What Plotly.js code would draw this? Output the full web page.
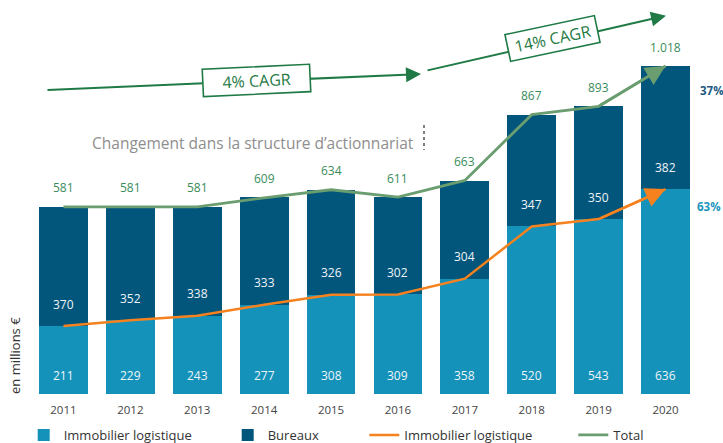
<!DOCTYPE html>
<html>
<head>
<meta charset="utf-8">
<script src="https://cdn.plot.ly/plotly-3.0.1.min.js"></script>
<style>
  html, body { margin: 0; padding: 0; background: #ffffff; }
  #chart { width: 723px; height: 443px; }
</style>
</head>
<body>
<div id="chart"></div>
<script>
// ---- Data ----
const years = ['2011', '2012', '2013', '2014', '2015', '2016', '2017', '2018', '2019', '2020'];
const logistique = [211, 229, 243, 277, 308, 309, 358, 520, 543, 636];
const bureaux = [370, 352, 338, 333, 326, 302, 304, 347, 350, 382];
const totals = [581, 581, 581, 609, 634, 611, 663, 867, 893, 1018];
const shareBureaux2020 = '37%';
const shareLogistique2020 = '63%';
const seriesNames = ['Immobilier logistique', 'Bureaux', 'Immobilier logistique', 'Total'];
const cagrLabels = ['4% CAGR', '14% CAGR'];
const noteText = 'Changement dans la structure d\u2019actionnariat';
const yTitle = 'en millions \u20ac';

// ---- Styles ----
const LIGHT = '#1492ba';
const DARK = '#02557b';
const ORANGE = '#f5821f';
const GREEN_LINE = '#6a9d6f';
const GREEN_DARK = '#1f7a45';
const GREEN_TEXT = '#3a8c5c';
const FONT = 'Open Sans, Noto Sans, sans-serif';

// plot-area geometry helpers (paper coordinates from pixel positions)
const PL = 30, PW = 669, PB = 394, PH = 384;
const px = v => (v - PL) / PW;
const py = v => (PB - v) / PH;

function fmt(n) {
  const s = String(n);
  return n >= 1000 ? s.slice(0, s.length - 3) + '.' + s.slice(-3) : s;
}

const traces = [
  { type: 'bar', name: seriesNames[0], x: years, y: logistique, marker: { color: LIGHT }, legend: 'legend', hoverinfo: 'skip' },
  { type: 'bar', name: seriesNames[1], x: years, y: bureaux, marker: { color: DARK }, legend: 'legend2', hoverinfo: 'skip' },
  { type: 'scatter', mode: 'lines', name: seriesNames[2], x: years, y: logistique, line: { color: ORANGE, width: 2.5 }, legend: 'legend3', hoverinfo: 'skip' },
  { type: 'scatter', mode: 'lines', name: seriesNames[3], x: years, y: totals, line: { color: GREEN_LINE, width: 2.8 }, legend: 'legend4', hoverinfo: 'skip' }
];

const annotations = [];
years.forEach((yr, i) => {
  annotations.push({ x: i, y: 0, xref: 'x', yref: 'y', yshift: 19, showarrow: false,
    xanchor: 'center', yanchor: 'middle',
    text: String(logistique[i]), font: { family: FONT, size: 12, color: '#eef4f8' } });
  annotations.push({ x: i, y: logistique[i], xref: 'x', yref: 'y', yshift: 22, showarrow: false,
    xanchor: 'center', yanchor: 'middle',
    text: String(bureaux[i]), font: { family: FONT, size: 12, color: '#eef4f8' } });
  annotations.push({ x: i, y: totals[i], xref: 'x', yref: 'y', yshift: 19, showarrow: false,
    xanchor: 'center', yanchor: 'middle',
    text: fmt(totals[i]), font: { family: FONT, size: 12, color: GREEN_TEXT } });
});

// arrowheads at the end of the two data lines
const last = years.length - 1;
annotations.push({ x: last, y: logistique[last], ax: last - 1, ay: logistique[last - 1],
  xref: 'x', yref: 'y', axref: 'x', ayref: 'y', text: '', showarrow: true,
  arrowhead: 2, arrowsize: 1.6, arrowwidth: 2.5, arrowcolor: ORANGE });
annotations.push({ x: last, y: totals[last], ax: last - 1, ay: totals[last - 1],
  xref: 'x', yref: 'y', axref: 'x', ayref: 'y', text: '', showarrow: true,
  arrowhead: 2, arrowsize: 1.6, arrowwidth: 2.5, arrowcolor: GREEN_LINE });

// share labels on the right
annotations.push({ x: px(698), y: py(90.7), xref: 'paper', yref: 'paper', xanchor: 'left', yanchor: 'middle',
  showarrow: false, text: '<b>' + shareBureaux2020 + '</b>', font: { family: FONT, size: 11.5, color: '#1d5a82' } });
annotations.push({ x: px(722.5), y: py(207), xref: 'paper', yref: 'paper', xanchor: 'right', yanchor: 'middle',
  showarrow: false, text: '<b>' + shareLogistique2020 + '</b>', font: { family: FONT, size: 11.5, color: '#1b95bd' } });

// CAGR arrows
annotations.push({ x: px(421), y: py(74), xref: 'paper', yref: 'paper', ax: -375, ay: 16, text: '',
  showarrow: true, arrowhead: 2, arrowsize: 1.5, arrowwidth: 2, arrowcolor: GREEN_DARK });
annotations.push({ x: px(666), y: py(15.7), xref: 'paper', yref: 'paper', ax: -240, ay: 55, text: '',
  showarrow: true, arrowhead: 2, arrowsize: 1.5, arrowwidth: 2, arrowcolor: GREEN_DARK });
// CAGR boxes
annotations.push({ x: px(256), y: py(80.6), xref: 'paper', yref: 'paper', xanchor: 'center', yanchor: 'middle',
  showarrow: false, text: cagrLabels[0], textangle: -2.7, width: 104, height: 24, borderpad: 1,
  bgcolor: '#ffffff', bordercolor: GREEN_DARK, borderwidth: 1.6, font: { family: FONT, size: 16, color: GREEN_DARK } });
annotations.push({ x: px(552.5), y: py(38.5), xref: 'paper', yref: 'paper', xanchor: 'center', yanchor: 'middle',
  showarrow: false, text: cagrLabels[1], textangle: -12, width: 88, height: 24, borderpad: 1,
  bgcolor: '#ffffff', bordercolor: GREEN_DARK, borderwidth: 1.6, font: { family: FONT, size: 16, color: GREEN_DARK } });

// note text
annotations.push({ x: px(90), y: py(143), xref: 'paper', yref: 'paper', xanchor: 'left', yanchor: 'middle',
  showarrow: false, text: noteText, font: { family: FONT, size: 15.5, color: '#8e8e8e' } });
// y title
annotations.push({ x: px(15), y: py(356), xref: 'paper', yref: 'paper', xanchor: 'center', yanchor: 'middle',
  textangle: -90, showarrow: false, text: yTitle, font: { family: FONT, size: 13, color: '#333333' } });

const legendBase = { orientation: 'h', y: py(435), yanchor: 'middle', xanchor: 'left',
  bgcolor: 'rgba(0,0,0,0)', font: { family: FONT, size: 13, color: '#333333' } };

const layout = {
  width: 723, height: 443,
  margin: { l: PL, r: 723 - PL - PW, t: PB - PH, b: 443 - PB, autoexpand: false },
  paper_bgcolor: '#ffffff', plot_bgcolor: '#ffffff',
  font: { family: FONT },
  barmode: 'stack', bargap: 0.27,
  showlegend: true,
  xaxis: { type: 'category', range: [-0.5, 9.5], showline: false, showgrid: false, zeroline: false,
    ticks: '', ticklabelstandoff: 7, tickfont: { family: FONT, size: 11.5, color: '#444444' }, fixedrange: true },
  yaxis: { range: [0, 1192], visible: false, fixedrange: true },
  legend: Object.assign({}, legendBase, { x: px(23.7) }),
  legend2: Object.assign({}, legendBase, { x: px(227.7) }),
  legend3: Object.assign({}, legendBase, { x: px(364.3) }),
  legend4: Object.assign({}, legendBase, { x: px(573.3) }),
  annotations: annotations,
  shapes: [{ type: 'line', xref: 'paper', yref: 'paper',
    x0: px(424), x1: px(424), y0: py(125), y1: py(150),
    line: { color: '#555555', width: 1.5, dash: 'dot' } }]
};

Plotly.newPlot('chart', traces, layout, { displayModeBar: false, staticPlot: true });
</script>
</body>
</html>
